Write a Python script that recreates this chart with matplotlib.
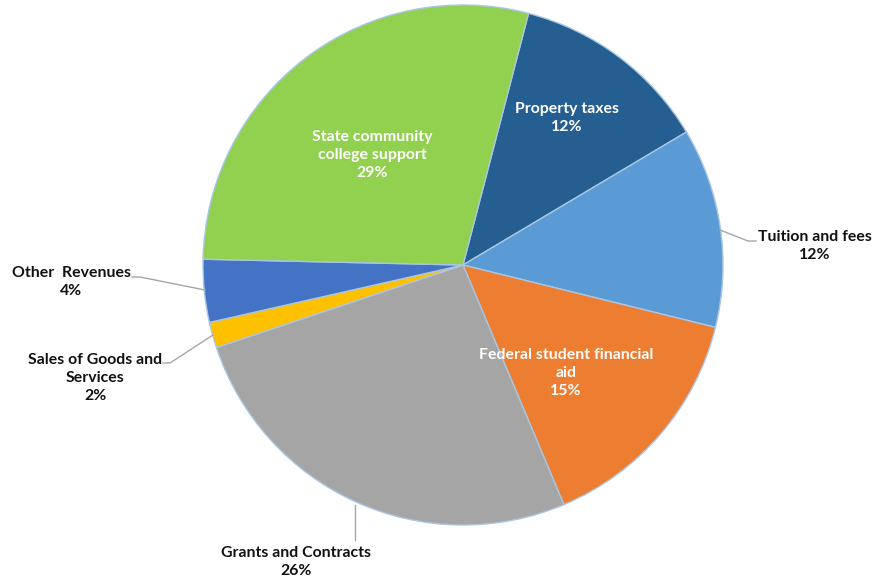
import matplotlib
matplotlib.use("Agg")
import matplotlib.pyplot as plt

categories = ["Property taxes", "Tuition and fees", "Federal student financial\naid",
              "Grants and Contracts", "Sales of Goods and\nServices", "Other  Revenues",
              "State community\ncollege support"]
values = [12.4, 12.4, 14.8, 26.2, 1.6, 3.9, 28.7]
colors = ["#255E91", "#5B9BD5", "#ED7D31", "#A5A5A5", "#FFC000", "#4472C4", "#92D050"]

W, H = 872, 580
fig = plt.figure(figsize=(W / 100, H / 100), dpi=100)
ax = fig.add_axes([0, 0, 1, 1])
ax.set_xlim(0, W)
ax.set_ylim(0, H)
ax.set_aspect("equal")
ax.axis("off")

cx, cy, r = 463, H - 265, 260
wedges, _ = ax.pie(values, colors=colors, startangle=75.4, counterclock=False,
                   center=(cx, cy), radius=r, frame=True,
                   wedgeprops=dict(edgecolor="#A9C6E3", linewidth=1.0))
ax.set_xlim(0, W)
ax.set_ylim(0, H)
ax.axis("off")

font = "Lato"
fs = 11.4
total = sum(values)
pcts = [f"{round(v / total * 100)}%" for v in values]

def lab(i):
    return f"{categories[i]}\n{pcts[i]}"

# inside labels (pixel coordinates from top)
inside = {0: (567, 118), 2: (566, 373), 6: (372, 155)}
for i, (x, y) in inside.items():
    ax.text(x, H - y, lab(i), ha="center", va="center", color="white",
            fontsize=fs, fontweight="bold", family=font, linespacing=1.35)

lc = "#A6A6A6"
tc = "#111111"
# outside labels with leader lines
ax.plot([720, 748, 756], [H - 230, H - 241, H - 241], color=lc, lw=1)
ax.text(815, H - 246, lab(1), ha="center", va="center", color=tc,
        fontsize=fs, fontweight="bold", family=font, linespacing=1.35)

ax.plot([355, 355], [H - 505, H - 540], color=lc, lw=1)
ax.text(296, H - 562, lab(3), ha="center", va="center", color=tc,
        fontsize=fs, fontweight="bold", family=font, linespacing=1.35)

ax.plot([213, 170, 163], [H - 335, H - 363, H - 363], color=lc, lw=1)
ax.text(95, H - 378, lab(4), ha="center", va="center", color=tc,
        fontsize=fs, fontweight="bold", family=font, linespacing=1.35)

ax.plot([205, 140, 132], [H - 290, H - 277, H - 277], color=lc, lw=1)
ax.text(71, H - 282, lab(5), ha="center", va="center", color=tc,
        fontsize=fs, fontweight="bold", family=font, linespacing=1.35)

fig.savefig("out.png", dpi=100)
